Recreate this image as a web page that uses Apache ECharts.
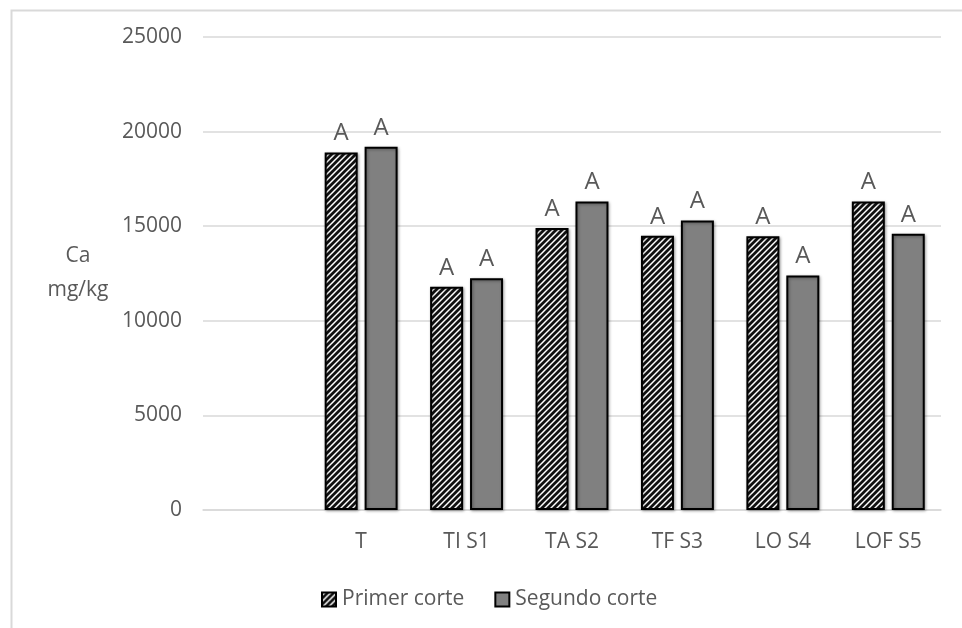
<!DOCTYPE html>
<html>
<head>
<meta charset="utf-8">
<script src="https://cdn.jsdelivr.net/npm/echarts@6/dist/echarts.min.js"></script>
<style>html,body{margin:0;padding:0;background:#fff;}#c{width:962px;height:628px;}</style>
</head>
<body>
<div id="c"></div>
<script>
var categories = ['', 'T', 'TI S1', 'TA S2', 'TF S3', 'LO S4', 'LOF S5'];
var primerCorte = [null, 18900, 11800, 14900, 14500, 14470, 16300];
var segundoCorte = [null, 19200, 12250, 16300, 15300, 12400, 14600];
var primerLetters = ['', 'A', 'A', 'A', 'A', 'A', 'A'];
var segundoLetters = ['', 'A', 'A', 'A', 'A', 'A', 'A'];
var yTicks = [0, 5000, 10000, 15000, 20000, 25000];

function stripePattern() {
  var s = 6;
  var c = document.createElement('canvas');
  c.width = s; c.height = s;
  var ctx = c.getContext('2d');
  ctx.fillStyle = '#ffffff';
  ctx.fillRect(0, 0, s, s);
  ctx.strokeStyle = '#111111';
  ctx.lineWidth = 2.8;
  ctx.lineCap = 'square';
  for (var k = -1; k <= 1; k++) {
    ctx.beginPath();
    ctx.moveTo(k * s - 1, s + 1);
    ctx.lineTo(k * s + s + 1, -1);
    ctx.stroke();
  }
  return c;
}

var FONT = 'Open Sans';
var TXT = '#595959';
var chart = echarts.init(document.getElementById('c'), null, {renderer: 'canvas'});
var pattern = {image: stripePattern(), repeat: 'repeat'};

function labelFor(letters) {
  return {
    show: true, position: 'top', distance: 7,
    fontFamily: FONT, fontSize: 24, color: TXT,
    formatter: function (p) { return letters[p.dataIndex]; }
  };
}

chart.setOption({
  animation: false,
  backgroundColor: '#ffffff',
  graphic: [{
    type: 'rect', left: 9, top: 8, shape: {width: 1000, height: 700},
    style: {fill: 'none', stroke: '#d9d9d9', lineWidth: 2}, silent: true, z: -1
  }],
  grid: {left: 203, right: 21, top: 37, bottom: 118, containLabel: false},
  legend: {
    top: 584, left: 316, itemWidth: 14, itemHeight: 14, itemGap: 30,
    icon: 'rect',
    textStyle: {fontFamily: FONT, fontSize: 21, color: TXT, padding: [0, 0, 0, 1]},
    data: ['Primer corte', 'Segundo corte']
  },
  xAxis: {
    type: 'category', data: categories,
    axisLine: {lineStyle: {color: '#d9d9d9', width: 1.5}},
    axisTick: {show: false},
    axisLabel: {fontFamily: FONT, fontSize: 21, color: TXT, margin: 22, interval: 0}
  },
  yAxis: {
    type: 'value', min: yTicks[0], max: yTicks[yTicks.length - 1], interval: 5000,
    name: 'Ca\nmg/kg', nameLocation: 'middle', nameRotate: 0, nameGap: 125,
    nameTextStyle: {fontFamily: FONT, fontSize: 21, color: TXT, lineHeight: 34, align: 'center', padding: [8, 0, 0, 0]},
    axisLine: {show: false}, axisTick: {show: false},
    axisLabel: {fontFamily: FONT, fontSize: 21, color: TXT, margin: 21,
      formatter: function (v) { return String(v); }},
    splitLine: {lineStyle: {color: '#d9d9d9', width: 1.5}}
  },
  series: [{
    name: 'Primer corte', type: 'bar', data: primerCorte,
    barWidth: 33, barGap: '21%',
    itemStyle: {color: pattern, borderColor: '#000000', borderWidth: 2,
      shadowBlur: 3, shadowColor: 'rgba(0,0,0,0.35)', shadowOffsetX: 1, shadowOffsetY: 1},
    label: labelFor(primerLetters)
  }, {
    name: 'Segundo corte', type: 'bar', data: segundoCorte,
    barWidth: 33,
    itemStyle: {color: '#808080', borderColor: '#000000', borderWidth: 2,
      shadowBlur: 3, shadowColor: 'rgba(0,0,0,0.35)', shadowOffsetX: 1, shadowOffsetY: 1},
    label: labelFor(segundoLetters)
  }]
});
</script>
</body>
</html>
